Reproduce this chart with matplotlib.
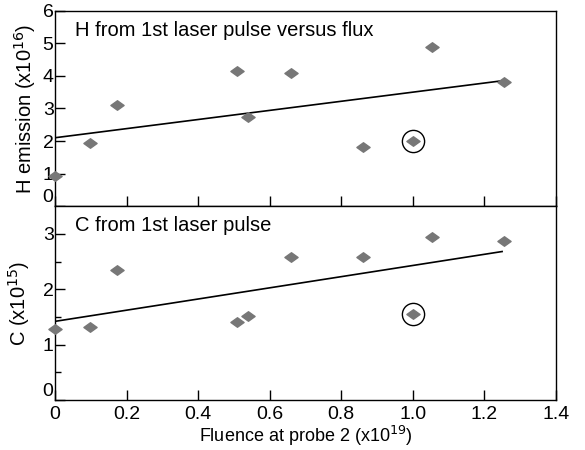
import numpy as np
import matplotlib
matplotlib.use("Agg")
import matplotlib.pyplot as plt
from matplotlib.path import Path

plt.rcParams['font.family'] = ['Liberation Sans', 'DejaVu Sans']

# fluence at probe 2 (x1e19)
fluence = [0.0, 0.098, 0.173, 0.51, 0.54, 0.66, 0.86, 1.0, 1.053, 1.254]
# H emission (x1e16)
h_emis = [0.92, 1.94, 3.1, 4.15, 2.74, 4.1, 1.82, 2.0, 4.9, 3.8]
# C (x1e15)
c_emis = [1.28, 1.32, 2.34, 1.40, 1.51, 2.58, 2.58, 1.55, 2.94, 2.87]

# straight-line fits (end points)
fit_x = [0.0, 1.25]
h_fit = [2.1, 3.85]
c_fit = [1.42, 2.68]

# circled outlier
out_x = [1.0]
h_out = [2.0]
c_out = [1.55]

xticks = [0, 0.2, 0.4, 0.6, 0.8, 1.0, 1.2, 1.4]
xlabels = ['0', '0.2', '0.4', '0.6', '0.8', '1.0', '1.2', '1.4']

diamond = Path([(-1, 0), (0, 0.72), (1, 0), (0, -0.72), (-1, 0)],
               [Path.MOVETO, Path.LINETO, Path.LINETO, Path.LINETO, Path.CLOSEPOLY])
grey = '#777777'

fig = plt.figure(figsize=(5.85, 4.5), dpi=100)
ax1 = fig.add_axes([0.094, 0.542, 0.856, 0.434])
ax2 = fig.add_axes([0.094, 0.111, 0.856, 0.431])

for ax, y, fit, oy in [(ax1, h_emis, h_fit, h_out), (ax2, c_emis, c_fit, c_out)]:
    ax.plot(fit_x, fit, color='black', lw=1.2, zorder=2)
    ax.plot(fluence, y, linestyle='none', marker=diamond, markersize=9.5,
            color=grey, mec=grey, zorder=3, clip_on=False)
    ax.plot(out_x, oy, linestyle='none', marker='o', markersize=16,
            mfc='none', mec='black', mew=1.0, zorder=4)
    ax.set_xlim(0, 1.4)
    ax.set_xticks(xticks)
    ax.tick_params(direction='in', length=7, width=1, labelsize=14, pad=1)
    ax.tick_params(axis='x', pad=4)
    ax.tick_params(which='minor', direction='in', length=4, width=1)
    for s in ax.spines.values():
        s.set_linewidth(1)

ax1.set_ylim(0, 6)
ax1.set_yticks([0, 1, 2, 3, 4, 5, 6])
ax1.tick_params(axis='x', labelbottom=False)
ax1.set_ylabel('H emission (x10$^{16}$)', fontsize=14.5, labelpad=3)
ax1.text(0.04, 0.95, 'H from 1st laser pulse versus flux', transform=ax1.transAxes,
         fontsize=14.5, va='top', ha='left')

ax2.set_ylim(0, 3.5)
ax2.set_yticks([0, 1, 2, 3])
ax2.set_yticks([0.5, 1.5, 2.5], minor=True)
ax2.set_xticklabels(xlabels)
ax2.set_ylabel('C (x10$^{15}$)', fontsize=14.5, labelpad=8)
ax2.set_xlabel('Fluence at probe 2 (x10$^{19}$)', fontsize=13, labelpad=1)
ax2.text(0.04, 0.95, 'C from 1st laser pulse', transform=ax2.transAxes,
         fontsize=14.5, va='top', ha='left')

# the "0" labels sit just above the bottom spine
for ax in (ax1, ax2):
    ax.get_yticklabels()[0].set_va('bottom')

fig.savefig('out.png', dpi=100)
